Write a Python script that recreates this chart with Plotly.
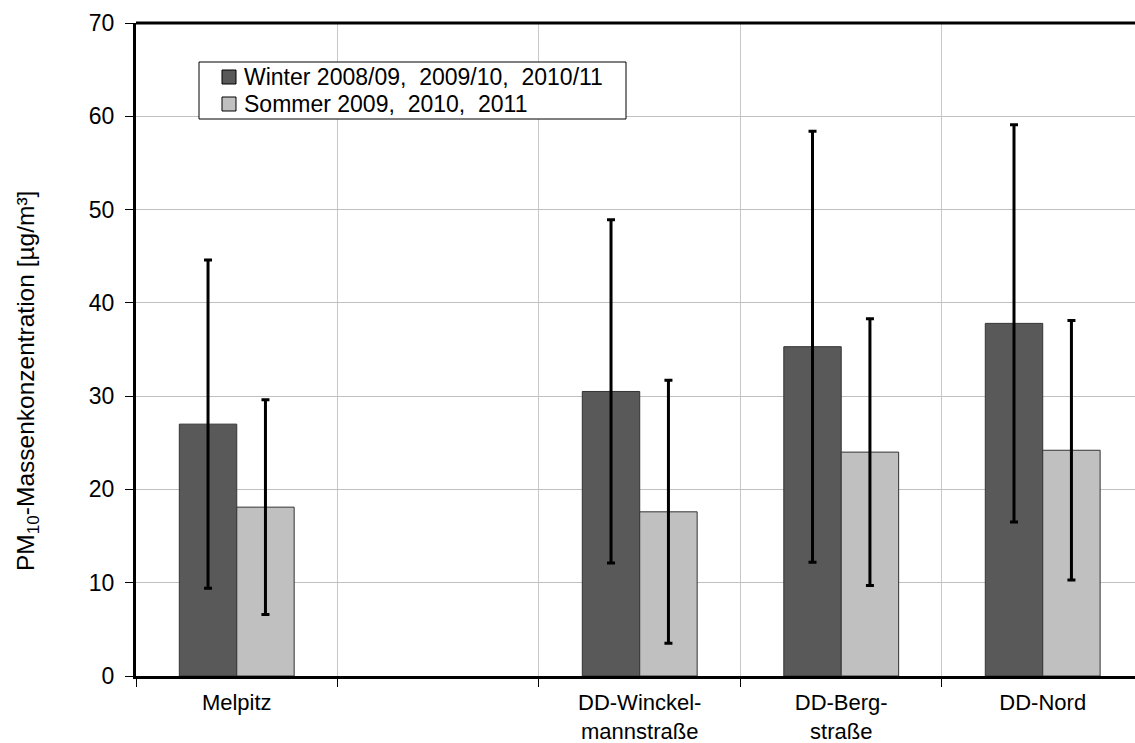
import plotly.graph_objects as go

categories = ["Melpitz", " ", "DD-Winckel-<br>mannstraße", "DD-Berg-<br>straße", "DD-Nord"]
series_names = ["Winter 2008/09,  2009/10,  2010/11", "Sommer 2009,  2010,  2011"]
winter = [27.0, None, 30.5, 35.3, 37.8]
winter_err = [17.6, None, 18.4, 23.1, 21.3]
summer = [18.1, None, 17.6, 24.0, 24.2]
summer_err = [11.5, None, 14.1, 14.3, 13.9]
y_ticks = [0, 10, 20, 30, 40, 50, 60, 70]
y_title = "PM<sub>10</sub>-Massenkonzentration [µg/m³]"

FONT = "Liberation Sans, Arial, sans-serif"
FS = 23
colors = ["#595959", "#c0c0c0"]

W, H = 1135, 743
ML, MR, MT, MB = 136, 0, 23, 67
PW, PH = W - ML - MR, H - MT - MB

def px_x(x):
    return (x - ML) / PW

def px_y(y):
    return (H - MB - y) / PH

fig = go.Figure()
for name, vals, errs, col in [(series_names[0], winter, winter_err, colors[0]),
                              (series_names[1], summer, summer_err, colors[1])]:
    fig.add_trace(go.Bar(
        x=categories, y=vals, name=name, showlegend=False,
        marker=dict(color=col, line=dict(color="#333333", width=1)),
        error_y=dict(type="data", array=errs, visible=True, color="black", thickness=3, width=4),
    ))

shapes = [dict(type="line", xref="paper", yref="paper", x0=0, x1=1, y0=1, y1=1,
               line=dict(color="black", width=3))]
# legend box
shapes.append(dict(type="rect", xref="paper", yref="paper",
                   x0=px_x(199), x1=px_x(626), y0=px_y(119), y1=px_y(62),
                   fillcolor="white", line=dict(color="black", width=1), layer="above"))
annotations = []
row_y = [77, 104]
for i, (name, col) in enumerate(zip(series_names, colors)):
    cy = row_y[i]
    shapes.append(dict(type="rect", xref="paper", yref="paper",
                       x0=px_x(222), x1=px_x(236), y0=px_y(cy + 7), y1=px_y(cy - 7),
                       fillcolor=col, line=dict(color="black", width=1), layer="above"))
    annotations.append(dict(text=name, xref="paper", yref="paper", x=px_x(242), y=px_y(cy),
                            xanchor="left", yanchor="middle", showarrow=False,
                            font=dict(size=FS, color="black")))

annotations.append(dict(text=y_title, xref="paper", yref="paper", x=px_x(27), y=px_y(381),
                        xanchor="center", yanchor="middle", textangle=-90, showarrow=False,
                        font=dict(size=24.5, color="black")))

fig.update_layout(
    width=W, height=H,
    margin=dict(l=ML, r=MR, t=MT, b=MB, autoexpand=False),
    paper_bgcolor="white", plot_bgcolor="white",
    barmode="group", bargap=0.43, bargroupgap=0,
    font=dict(family=FONT, size=FS, color="black"),
    showlegend=False,
    xaxis=dict(
        type="category", range=[-0.5, 4.458], tickson="boundaries", automargin=False,
        showgrid=True, gridcolor="#c8c8c8", gridwidth=1,
        showline=True, linecolor="black", linewidth=3,
        ticks="outside", ticklen=8, tickcolor="black", tickwidth=1,
        tickfont=dict(size=22), ticklabelstandoff=5, fixedrange=True,
    ),
    yaxis=dict(
        range=[0, 70], tickvals=y_ticks, automargin=False,
        showgrid=True, gridcolor="#c0c0c0", gridwidth=1,
        showline=True, linecolor="black", linewidth=3,
        ticks="outside", ticklen=8, tickcolor="black", tickwidth=1,
        tickfont=dict(size=FS), ticklabelstandoff=6, zeroline=False,
    ),
    shapes=shapes,
    annotations=annotations,
)

fig.write_html("out.html", config={"displayModeBar": False},
               post_script="document.body.style.margin='0';")
